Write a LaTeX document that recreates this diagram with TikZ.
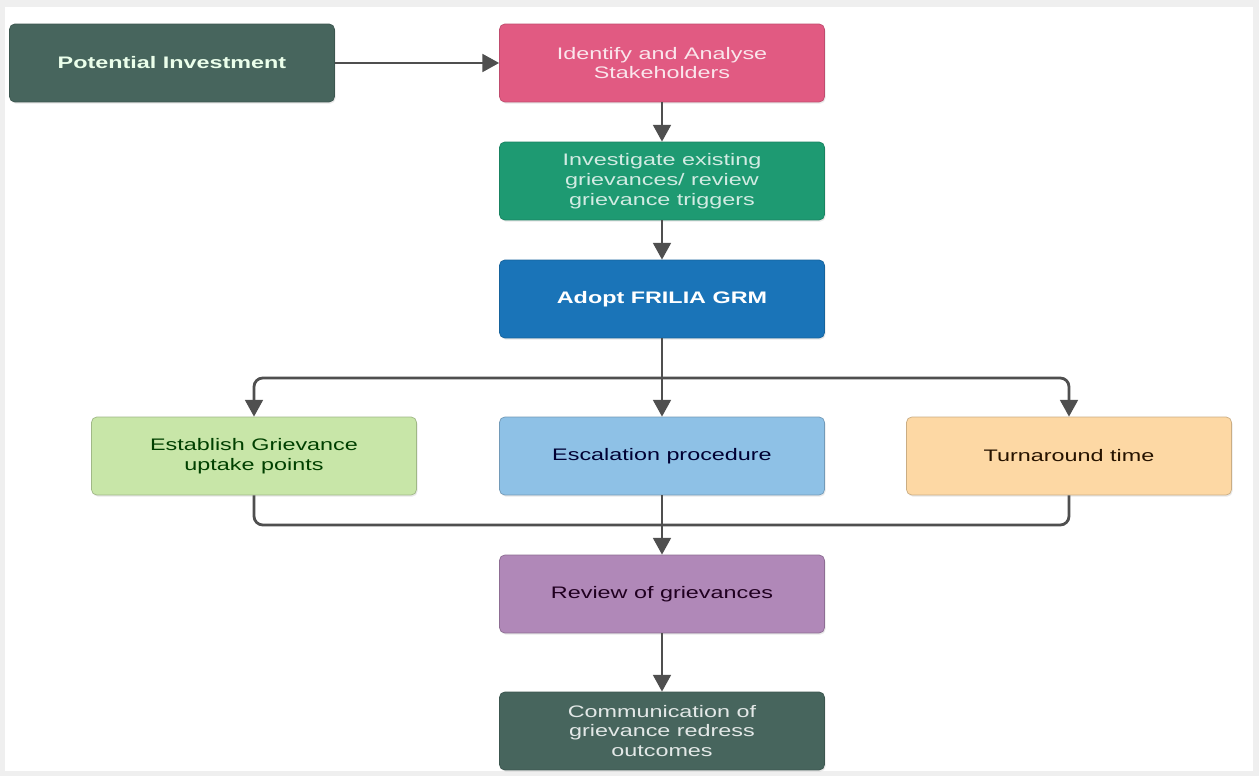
\documentclass[tikz,border=0pt]{standalone}
\usepackage{fontspec}
\setmainfont{Liberation Sans}[FakeStretch=1.4]
\usetikzlibrary{arrows.meta,shadows}

\definecolor{frame}{HTML}{EFEFEF}
\definecolor{slate}{HTML}{47655D}
\definecolor{rose}{HTML}{E15A82}
\definecolor{jade}{HTML}{1E9A72}
\definecolor{ocean}{HTML}{1A74B8}
\definecolor{lime}{HTML}{C8E6A8}
\definecolor{sky}{HTML}{8EC1E6}
\definecolor{peach}{HTML}{FDD8A4}
\definecolor{plum}{HTML}{B088B8}
\definecolor{wire}{HTML}{4F4F4F}

\begin{document}
\begin{tikzpicture}[x=0.02cm, y=-0.02cm,
        box/.style={rectangle, rounded corners=3pt, minimum width=6.5cm, minimum height=1.56cm, inner sep=0pt, align=center, font=\fontsize{9.5}{11.3}\selectfont, drop shadow={opacity=0.18, shadow xshift=0.6pt, shadow yshift=-0.9pt}},
        arrow/.style={draw=wire, line width=1.6pt, -{Triangle[width=10pt,length=9.5pt]}},
        line/.style={draw=wire, line width=1.6pt}
    ]
        % Background and frame
        \fill[frame] (0,0) rectangle (1259,776);
        \fill[white] (5,7) rectangle (1253,771);

        % Top row
        \node[box, fill=slate, draw=slate!85!black, text=white!92!green, font=\fontsize{9.5}{11.3}\selectfont\bfseries] (pot_inv) at (172,63) {Potential Investment};
        \node[box, fill=rose, draw=rose!85!black, text=white!85!rose] (ident) at (662,63) {Identify and Analyse\\Stakeholders};

        % Main column
        \node[box, fill=jade, draw=jade!85!black, text=white!80!jade] (investigate) at (662,181) {Investigate existing\\grievances/ review\\grievance triggers};
        \node[box, fill=ocean, draw=ocean!85!black, text=white, font=\fontsize{9.5}{11.3}\selectfont\bfseries] (adopt) at (662,299) {Adopt FRILIA GRM};

        % Three branches
        \node[box, fill=lime, draw=lime!80!black, text=black!75!green] (establish) at (254,456) {Establish Grievance\\uptake points};
        \node[box, fill=sky, draw=sky!80!black, text=black!80!blue] (escalation) at (662,456) {Escalation procedure};
        \node[box, fill=peach, draw=peach!80!black, text=black!85!orange] (turnaround) at (1069,456) {Turnaround time};

        % Bottom of column
        \node[box, fill=plum, draw=plum!80!black, text=black!75!violet] (review) at (662,594) {Review of grievances};
        \node[box, fill=slate, draw=slate!85!black, text=white!85!slate] (communication) at (662,731) {Communication of\\grievance redress\\outcomes};

        \coordinate (split) at (662,378);
        \coordinate (merge) at (662,525);

        % Connectors
        \draw[arrow] (pot_inv) -- (ident);
        \draw[arrow] (ident) -- (investigate);
        \draw[arrow] (investigate) -- (adopt);
        \draw[arrow] (adopt) -- (escalation);
        \draw[arrow, rounded corners=5pt] (split) -| (establish.north);
        \draw[arrow, rounded corners=5pt] (split) -| (turnaround.north);
        \draw[line, rounded corners=5pt] (establish.south) |- (merge);
        \draw[line, rounded corners=5pt] (turnaround.south) |- (merge);
        \draw[arrow] (escalation) -- (review);
        \draw[arrow] (review) -- (communication);

    \end{tikzpicture}
\end{document}
